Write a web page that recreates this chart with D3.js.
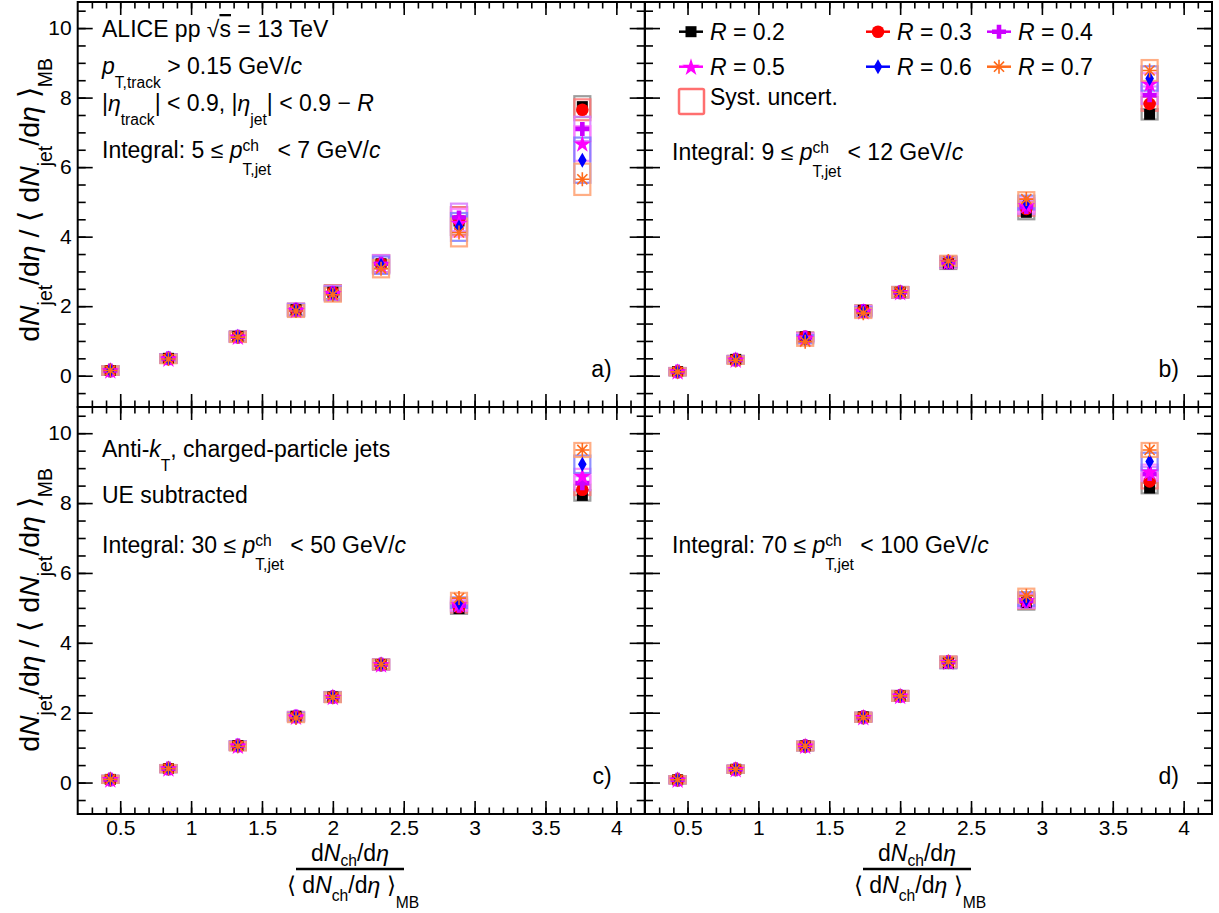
<!DOCTYPE html>
<html><head><meta charset="utf-8">
<script src="https://cdn.jsdelivr.net/npm/d3@7"></script>
<style>
body{margin:0;background:#fff}
svg{display:block}
text{font-family:"Liberation Sans",Arial,Helvetica,sans-serif;fill:#000;white-space:pre}
</style>
</head><body>
<svg id="c" width="1219" height="913"></svg>
<script>
// ---------------- data ----------------
const xMult = [0.43, 0.84, 1.33, 1.74, 2.0, 2.34, 2.89, 3.76];
const radii = ["0.2", "0.3", "0.4", "0.5", "0.6", "0.7"];

// panel a) 5 <= pT < 7 GeV/c
const a_R02 = [0.15, 0.50, 1.13, 1.90, 2.40, 3.22, 4.45, 7.74];
const a_R03 = [0.15, 0.50, 1.13, 1.90, 2.40, 3.22, 4.45, 7.65];
const a_R04 = [0.15, 0.50, 1.12, 1.90, 2.38, 3.22, 4.55, 7.10];
const a_R05 = [0.15, 0.49, 1.12, 1.89, 2.37, 3.20, 4.40, 6.68];
const a_R06 = [0.15, 0.49, 1.12, 1.88, 2.36, 3.18, 4.28, 6.20];
const a_R07 = [0.15, 0.48, 1.11, 1.86, 2.33, 3.08, 4.12, 5.65];
// panel b) 9 <= pT < 12 GeV/c
const b_R02 = [0.12, 0.47, 1.12, 1.88, 2.40, 3.22, 4.70, 7.52];
const b_R03 = [0.12, 0.47, 1.12, 1.88, 2.40, 3.25, 4.80, 7.82];
const b_R04 = [0.12, 0.46, 1.10, 1.86, 2.40, 3.26, 4.85, 8.07];
const b_R05 = [0.12, 0.46, 1.08, 1.85, 2.40, 3.27, 4.90, 8.40];
const b_R06 = [0.11, 0.45, 1.05, 1.83, 2.40, 3.28, 4.98, 8.55];
const b_R07 = [0.11, 0.44, 0.98, 1.80, 2.40, 3.30, 5.08, 8.78];
// panel c) 30 <= pT < 50 GeV/c
const c_R02 = [0.09, 0.40, 1.06, 1.90, 2.45, 3.38, 4.98, 8.22];
const c_R03 = [0.09, 0.40, 1.06, 1.90, 2.45, 3.38, 5.02, 8.38];
const c_R04 = [0.09, 0.40, 1.06, 1.89, 2.45, 3.38, 5.06, 8.57];
const c_R05 = [0.09, 0.40, 1.05, 1.88, 2.45, 3.38, 5.10, 8.78];
const c_R06 = [0.09, 0.40, 1.05, 1.87, 2.45, 3.38, 5.15, 9.11];
const c_R07 = [0.09, 0.40, 1.04, 1.85, 2.44, 3.38, 5.28, 9.52];
// panel d) 70 <= pT < 100 GeV/c
const d_R02 = [0.08, 0.38, 1.05, 1.88, 2.48, 3.42, 5.15, 8.43];
const d_R03 = [0.08, 0.38, 1.05, 1.88, 2.48, 3.44, 5.18, 8.62];
const d_R04 = [0.08, 0.38, 1.05, 1.87, 2.48, 3.45, 5.20, 8.83];
const d_R05 = [0.08, 0.38, 1.05, 1.87, 2.48, 3.45, 5.22, 8.90];
const d_R06 = [0.08, 0.38, 1.04, 1.86, 2.48, 3.45, 5.25, 9.19];
const d_R07 = [0.08, 0.38, 1.04, 1.86, 2.48, 3.46, 5.35, 9.52];

// systematic half-heights: low-multiplicity bins (shared by all R), highest bin per R
const a_sysLow = [0.12, 0.12, 0.14, 0.17, 0.20, 0.25, 0.40];
const b_sysLow = [0.10, 0.10, 0.12, 0.14, 0.15, 0.15, 0.20];
const c_sysLow = [0.10, 0.10, 0.12, 0.12, 0.14, 0.14, 0.15];
const d_sysLow = [0.10, 0.10, 0.12, 0.12, 0.14, 0.15, 0.20];
const a_sysHigh = [0.30, 0.30, 0.35, 0.50, 0.65, 0.45];
const b_sysHigh = [0.15, 0.20, 0.25, 0.30, 0.35, 0.30];
const c_sysHigh = [0.15, 0.15, 0.20, 0.20, 0.25, 0.20];
const d_sysHigh = [0.15, 0.20, 0.20, 0.20, 0.25, 0.20];

const xMajorTicks = [0.5, 1, 1.5, 2, 2.5, 3, 3.5, 4];
const yMajorTicks = [0, 2, 4, 6, 8, 10];

// ---------------- styles ----------------
const colors = ["#000000", "#ff0000", "#cc00ff", "#ff00ff", "#0000ff", "#ff6a1a"];
const sysColors = ["#8c8c8c", "#ff7676", "#d77cff", "#ff7cff", "#7c7cff", "#ffa070"];
const markers = ["square", "circle", "cross", "star", "diamond", "asterisk"];

const panelsData = [
  {id: "a", vals: [a_R02, a_R03, a_R04, a_R05, a_R06, a_R07], low: a_sysLow, high: a_sysHigh, col: 0, row: 0},
  {id: "b", vals: [b_R02, b_R03, b_R04, b_R05, b_R06, b_R07], low: b_sysLow, high: b_sysHigh, col: 1, row: 0},
  {id: "c", vals: [c_R02, c_R03, c_R04, c_R05, c_R06, c_R07], low: c_sysLow, high: c_sysHigh, col: 0, row: 1},
  {id: "d", vals: [d_R02, d_R03, d_R04, d_R05, d_R06, d_R07], low: d_sysLow, high: d_sysHigh, col: 1, row: 1}
];

const svg = d3.select("#c");
const FS = 21;     // tick labels
const TFS = 23;    // annotations / legend
const colX = [77.7, 645];
const rowY = [2, 407];
const rowH = [405, 407];
const PW = 567;

// rich text helper: parts "text", "i§text", "ov§text", "sub§text", "sub2§text", "sup§text", "ss§sup|sub"
function rich(parent, x, y, parts, fs, anchor, subDy) {
  const g = parent.append("g");
  let cx = 0;
  const sfs = fs * 0.68;
  const sdy = subDy === undefined ? 0.6 : subDy;
  for (const p of parts) {
    let kind = "n", txt = p;
    if (p.includes("§")) { [kind, txt] = p.split("§"); }
    if (kind === "ss") {
      const [sp, sb] = txt.split("|");
      const t1 = g.append("text").attr("x", cx).attr("y", -fs * 0.30).style("font-size", sfs + "px").text(sp);
      const t2 = g.append("text").attr("x", cx).attr("y", fs * 0.72).style("font-size", sfs + "px").text(sb);
      cx += Math.max(t1.node().getComputedTextLength(), t2.node().getComputedTextLength());
    } else {
      const t = g.append("text").attr("x", cx).attr("y", 0);
      if (kind === "i") t.style("font-size", fs + "px").style("font-style", "italic");
      else if (kind === "ov") t.style("font-size", fs + "px").style("text-decoration", "overline");
      else if (kind === "sub") t.style("font-size", sfs + "px").attr("y", fs * sdy);
      else if (kind === "sub2") t.style("font-size", sfs + "px").attr("y", fs * (sdy + 0.3));
      else if (kind === "sup") t.style("font-size", sfs + "px").attr("y", -fs * 0.4);
      else t.style("font-size", fs + "px");
      t.text(txt);
      cx += t.node().getComputedTextLength();
    }
  }
  let ox = x;
  if (anchor === "middle") ox = x - cx / 2;
  else if (anchor === "end") ox = x - cx;
  g.attr("transform", `translate(${ox},${y})`);
  return g;
}

function drawMarker(g, type, color, cx, cy, s) {
  s = s || 1;
  if (type === "square") {
    g.append("rect").attr("x", cx - 5.5 * s).attr("y", cy - 5.5 * s).attr("width", 11 * s).attr("height", 11 * s).attr("fill", color);
  } else if (type === "circle") {
    g.append("circle").attr("cx", cx).attr("cy", cy).attr("r", 6.3 * s).attr("fill", color);
  } else if (type === "cross") {
    const a = 7 * s, b = 2.3 * s;
    g.append("path").attr("d", `M${cx-b},${cy-a}H${cx+b}V${cy-b}H${cx+a}V${cy+b}H${cx+b}V${cy+a}H${cx-b}V${cy+b}H${cx-a}V${cy-b}H${cx-b}Z`).attr("fill", color);
  } else if (type === "star") {
    g.append("path").attr("d", d3.symbol(d3.symbolStar, 95 * s * s)()).attr("transform", `translate(${cx},${cy + 0.8})`).attr("fill", color);
  } else if (type === "diamond") {
    const h = 7.5 * s, w = 4.3 * s;
    g.append("path").attr("d", `M${cx},${cy-h}L${cx+w},${cy}L${cx},${cy+h}L${cx-w},${cy}Z`).attr("fill", color);
  } else if (type === "asterisk") {
    const r = 7 * s, r2 = r * 0.72;
    g.append("path").attr("d", `M${cx-r},${cy}H${cx+r}M${cx},${cy-r}V${cy+r}M${cx-r2},${cy-r2}L${cx+r2},${cy+r2}M${cx-r2},${cy+r2}L${cx+r2},${cy-r2}`)
      .attr("stroke", color).attr("stroke-width", 1.6).attr("fill", "none");
  }
}

// ---------------- panels ----------------
panelsData.forEach(P => {
  const x0 = colX[P.col], y0 = rowY[P.row], h = rowH[P.row];
  const x = d3.scaleLinear().domain([0.2, 4.2]).range([0, PW]);
  const y = d3.scaleLinear().domain([-0.9, 10.75]).range([h, 0]);
  const g = svg.append("g").attr("transform", `translate(${x0},${y0})`);

  const xMinor = d3.range(3, 42).map(v => v / 10);
  const yMinor = d3.range(-1, 22).map(v => v / 2).filter(v => v > -0.9);

  const styleAxis = sel => {
    sel.select(".domain").remove();
    sel.selectAll("line").attr("stroke", "#000").attr("stroke-width", 1.6);
    sel.selectAll("text").style("font-size", FS + "px").style("font-family", '"Liberation Sans",Arial,sans-serif');
  };
  // left
  g.append("g").call(d3.axisLeft(y).tickValues(yMajorTicks).tickSize(-15).tickPadding(6)
    .tickFormat(P.col === 0 ? d3.format("d") : () => "")).call(styleAxis);
  g.append("g").call(d3.axisLeft(y).tickValues(yMinor).tickSize(-8).tickFormat(() => "")).call(styleAxis);
  // right
  g.append("g").attr("transform", `translate(${PW},0)`).call(d3.axisRight(y).tickValues(yMajorTicks).tickSize(-15).tickFormat(() => "")).call(styleAxis);
  g.append("g").attr("transform", `translate(${PW},0)`).call(d3.axisRight(y).tickValues(yMinor).tickSize(-8).tickFormat(() => "")).call(styleAxis);
  // top
  g.append("g").call(d3.axisTop(x).tickValues(xMajorTicks).tickSize(-13).tickFormat(() => "")).call(styleAxis);
  g.append("g").call(d3.axisTop(x).tickValues(xMinor).tickSize(-6.5).tickFormat(() => "")).call(styleAxis);
  // bottom
  g.append("g").attr("transform", `translate(0,${h})`).call(d3.axisBottom(x).tickValues(xMajorTicks).tickSize(-13).tickPadding(6)
    .tickFormat(P.row === 1 ? d3.format("") : () => "")).call(styleAxis);
  g.append("g").attr("transform", `translate(0,${h})`).call(d3.axisBottom(x).tickValues(xMinor).tickSize(-6.5).tickFormat(() => "")).call(styleAxis);

  // frame
  g.append("rect").attr("x", 0).attr("y", 0).attr("width", PW).attr("height", h)
    .attr("fill", "none").attr("stroke", "#000").attr("stroke-width", 2);

  // systematic boxes
  const bw = 16;
  P.vals.forEach((vals, si) => {
    vals.forEach((v, i) => {
      const e = i < 7 ? P.low[i] : P.high[si];
      g.append("rect").attr("x", x(xMult[i]) - bw / 2).attr("y", y(v + e))
        .attr("width", bw).attr("height", y(v - e) - y(v + e))
        .attr("fill", "none").attr("stroke", sysColors[si]).attr("stroke-width", 2.2).attr("stroke-opacity", 0.85);
    });
  });
  // markers
  P.vals.forEach((vals, si) => {
    vals.forEach((v, i) => drawMarker(g, markers[si], colors[si], x(xMult[i]), y(v)));
  });

  // panel label
  g.append("text").attr("x", PW - 33).attr("y", h - 30).attr("text-anchor", "end").style("font-size", TFS + "px").text(P.id + ")");
});

// ---------------- annotations ----------------
rich(svg, 102, 37, ["ALICE pp √", "ov§s", " = 13 TeV"], TFS);
rich(svg, 102, 74, ["i§p", "sub§T,track", " > 0.15 GeV/", "i§c"], TFS);
rich(svg, 102, 111, ["|", "i§η", "sub§track", "| < 0.9, |", "i§η", "sub§jet", "| < 0.9 − ", "i§R"], TFS);
rich(svg, 102, 158, ["Integral: 5 ≤ ", "i§p", "ss§ch|T,jet", " < 7 GeV/", "i§c"], TFS);

rich(svg, 672, 160, ["Integral: 9 ≤ ", "i§p", "ss§ch|T,jet", " < 12 GeV/", "i§c"], TFS);

rich(svg, 102, 457, ["Anti-", "i§k", "sub§T", ", charged-particle jets"], TFS);
rich(svg, 102, 503, ["UE subtracted"], TFS);
rich(svg, 102, 553, ["Integral: 30 ≤ ", "i§p", "ss§ch|T,jet", " < 50 GeV/", "i§c"], TFS);

rich(svg, 672, 553, ["Integral: 70 ≤ ", "i§p", "ss§ch|T,jet", " < 100 GeV/", "i§c"], TFS);

// ---------------- legend ----------------
const legCols = [{mx: 691, tx: 710}, {mx: 878, tx: 897}, {mx: 999, tx: 1018}];
const legRows = [31.7, 66.7];
radii.forEach((r, i) => {
  const c = legCols[i % 3], ry = legRows[Math.floor(i / 3)];
  svg.append("line").attr("x1", c.mx - 12).attr("x2", c.mx + 12).attr("y1", ry).attr("y2", ry)
    .attr("stroke", colors[i]).attr("stroke-width", 2.5);
  drawMarker(svg, markers[i], colors[i], c.mx, ry, 1);
  rich(svg, c.tx, ry + 8, ["i§R", " = " + r], TFS);
});
svg.append("rect").attr("x", 679).attr("y", 89).attr("width", 25).attr("height", 25)
  .attr("fill", "none").attr("stroke", "#ff6f6f").attr("stroke-width", 2.5).attr("rx", 1.5);
rich(svg, 710, 105, ["Syst. uncert."], TFS);

// ---------------- axis titles ----------------
const yTitleParts = ["d", "i§N", "sub§jet", "/d", "i§η", " / ⟨ d", "i§N", "sub§jet", "/d", "i§η", " ⟩", "sub§MB"];
[200, 610].forEach(cy => {
  const gt = svg.append("g").attr("transform", `translate(39,${cy}) rotate(-90)`);
  rich(gt, 0, 0, yTitleParts, 28.5, "middle", 0.45);
});
[350, 917].forEach(cx => {
  rich(svg, cx, 861, ["d", "i§N", "sub§ch", "/d", "i§η"], 23, "middle", 0.2);
  svg.append("line").attr("x1", cx - 54).attr("x2", cx + 54).attr("y1", 869).attr("y2", 869)
    .attr("stroke", "#000").attr("stroke-width", 2.5);
  rich(svg, cx + 3, 893, ["⟨ d", "i§N", "sub§ch", "/d", "i§η", " ⟩", "sub2§MB"], 23, "middle", 0.35);
});
</script>
</body></html>
